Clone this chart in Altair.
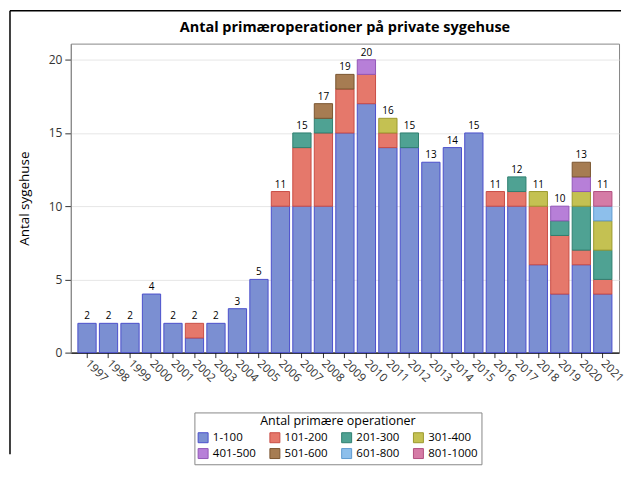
import altair as alt
import pandas as pd

years = [str(y) for y in range(1997, 2022)]
categories = ["1-100", "101-200", "201-300", "301-400", "401-500", "501-600", "601-800", "801-1000"]

#            97 98 99 00 01 02 03 04 05 06 07 08 09 10 11 12 13 14 15 16 17 18 19 20 21
c_1_100    = [2, 2, 2, 4, 2, 1, 2, 3, 5, 10, 10, 10, 15, 17, 14, 14, 13, 14, 15, 10, 10, 6, 4, 6, 4]
c_101_200  = [0, 0, 0, 0, 0, 1, 0, 0, 0, 1, 4, 5, 3, 2, 1, 0, 0, 0, 0, 1, 1, 4, 4, 1, 1]
c_201_300  = [0, 0, 0, 0, 0, 0, 0, 0, 0, 0, 1, 1, 0, 0, 0, 1, 0, 0, 0, 0, 1, 0, 1, 3, 2]
c_301_400  = [0, 0, 0, 0, 0, 0, 0, 0, 0, 0, 0, 0, 0, 0, 1, 0, 0, 0, 0, 0, 0, 1, 0, 1, 2]
c_401_500  = [0, 0, 0, 0, 0, 0, 0, 0, 0, 0, 0, 0, 0, 1, 0, 0, 0, 0, 0, 0, 0, 0, 1, 1, 0]
c_501_600  = [0, 0, 0, 0, 0, 0, 0, 0, 0, 0, 0, 1, 1, 0, 0, 0, 0, 0, 0, 0, 0, 0, 0, 1, 0]
c_601_800  = [0, 0, 0, 0, 0, 0, 0, 0, 0, 0, 0, 0, 0, 0, 0, 0, 0, 0, 0, 0, 0, 0, 0, 0, 1]
c_801_1000 = [0, 0, 0, 0, 0, 0, 0, 0, 0, 0, 0, 0, 0, 0, 0, 0, 0, 0, 0, 0, 0, 0, 0, 0, 1]

title_text = "Antal primæroperationer på private sygehuse"

fill_colors = ["#7b8fd2", "#e5786b", "#4fa293", "#c4c152", "#b77fd8", "#a67c52", "#8dbfeb", "#d57ba6"]
stroke_colors = ["#4b4fcc", "#c94d45", "#2f7f70", "#9c9a2e", "#9357b8", "#7a5530", "#5f9bd0", "#b24f80"]

series = [c_1_100, c_101_200, c_201_300, c_301_400, c_401_500, c_501_600, c_601_800, c_801_1000]
rows = []
for ci, (cat, vals) in enumerate(zip(categories, series)):
    for y, v in zip(years, vals):
        if v > 0:
            rows.append({"year": y, "cat": cat, "order": ci, "n": v})
df = pd.DataFrame(rows)

FONT = "Open Sans"
W, H = 550, 310

x_enc = alt.X("year:N", title=None,
              scale=alt.Scale(paddingInner=0.15, paddingOuter=0.33),
              axis=alt.Axis(labelAngle=45, labelAlign="left", labelBaseline="middle",
                            labelFontSize=11.5, labelColor="#333", tickColor="#333",
                            domainColor="#000", domainWidth=1.5, tickSize=5, labelPadding=4))

bars = alt.Chart(df).mark_bar(strokeWidth=1, fillOpacity=1).encode(
    x=x_enc,
    y=alt.Y("sum(n):Q", title="Antal sygehuse",
            scale=alt.Scale(domain=[0, 21.1], nice=False),
            axis=alt.Axis(values=[0, 5, 10, 15, 20], labelFontSize=12, labelColor="#333",
                          titleFontSize=13.5, titleFontWeight="normal", titleColor="#000",
                          tickColor="#333", domainColor="#888", gridColor="#e6e6e6",
                          tickSize=6, labelPadding=3, titlePadding=17)),
    fill=alt.Fill("cat:N", title="Antal primære operationer",
                  scale=alt.Scale(domain=categories, range=fill_colors)),
    stroke=alt.Stroke("cat:N", title="Antal primære operationer",
                      scale=alt.Scale(domain=categories, range=stroke_colors)),
    order=alt.Order("order:Q"),
)

labels = alt.Chart(df).mark_text(dy=-7, fontSize=10, font=FONT, color="#000").encode(
    x=alt.X("year:N"),
    y=alt.Y("sum(n):Q"),
    text=alt.Text("sum(n):Q"),
)

# outer frame of the figure (decoration: top and left border lines) and the title
frame_df = pd.DataFrame({"k": [0]})
frame_left = alt.Chart(frame_df).mark_rule(color="#000", strokeWidth=1.5, clip=False).encode(
    x=alt.value(-61), y=alt.value(-33), y2=alt.value(412))
frame_top = alt.Chart(frame_df).mark_rule(color="#000", strokeWidth=1.5, clip=False).encode(
    x=alt.value(-61), x2=alt.value(W + 2), y=alt.value(-33))
title_mark = alt.Chart(pd.DataFrame({"t": [title_text]})).mark_text(
    font=FONT, fontSize=14.5, fontWeight="bold", color="#000", align="center",
    baseline="middle", clip=False).encode(
    text="t:N", x=alt.value(W / 2), y=alt.value(-16))

chart = alt.layer(bars, labels, frame_left, frame_top, title_mark).properties(
    width=W, height=H,
    padding={"left": 1, "top": 1, "right": 0, "bottom": 0},
).configure(
    font=FONT,
).configure_view(
    stroke="#888", strokeWidth=1,
).configure_axis(
    labelFont=FONT, titleFont=FONT,
).configure_legend(
    orient="none", legendX=124, legendY=370, direction="horizontal", columns=4,
    titleAnchor="middle", titleFontSize=12.5, titleFontWeight="normal", titleColor="#000",
    labelFontSize=11.5, labelColor="#000", symbolType="square", symbolSize=100,
    symbolStrokeWidth=1, strokeColor="#888", padding=3, columnPadding=11, rowPadding=1,
    titleFont=FONT, labelFont=FONT, titlePadding=4,
)

chart.save("out.html", embed_options={"renderer": "svg", "actions": False})
